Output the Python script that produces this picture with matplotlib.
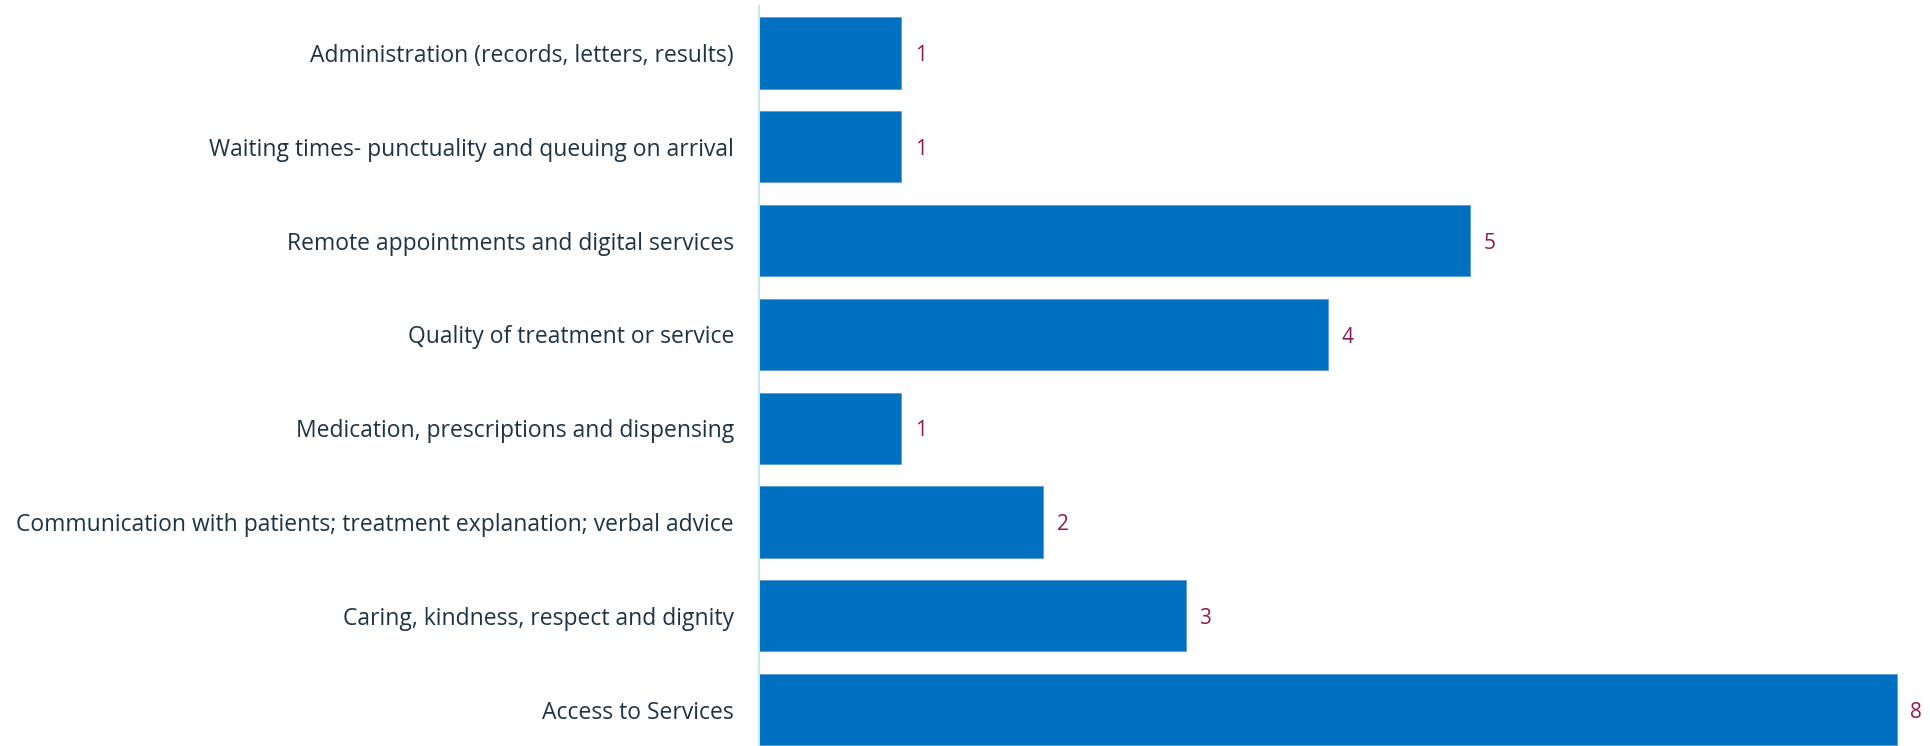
import matplotlib.pyplot as plt

categories = [
    "Administration (records, letters, results)",
    "Waiting times- punctuality and queuing on arrival",
    "Remote appointments and digital services",
    "Quality of treatment or service",
    "Medication, prescriptions and dispensing",
    "Communication with patients; treatment explanation; verbal advice",
    "Caring, kindness, respect and dignity",
    "Access to Services",
]
counts = [1, 1, 5, 4, 1, 2, 3, 8]

W, H = 1931, 746
fig = plt.figure(figsize=(W / 100, H / 100), dpi=100)
ax = fig.add_axes([759 / W, 0, 1 - 759 / W, (H - 6) / H])

ypos = range(len(categories))
ax.barh(ypos, counts, height=0.76, color="#0070c0", edgecolor="#5b9bd5", linewidth=0.6)

ax.set_xlim(0, (W - 759) / 142.2)
ax.set_ylim(7.388, -0.5)

for spine in ["top", "right", "bottom"]:
    ax.spines[spine].set_visible(False)
ax.spines["left"].set_color("#c5e6f8")
ax.spines["left"].set_linewidth(1.5)

ax.set_xticks([])
ax.set_yticks(list(ypos))
ax.set_yticklabels(categories, fontsize=16.5, color="#1d3445", family="Open Sans")
ax.tick_params(axis="y", length=0, pad=18)

# value labels just right of each bar
for i, v in enumerate(counts):
    ax.annotate(str(v), (v, i), xytext=(10, -2), textcoords="offset points",
                va="center", ha="left", fontsize=15, color="#8b1a55",
                family="Open Sans")

fig.savefig("out.png", dpi=100)
